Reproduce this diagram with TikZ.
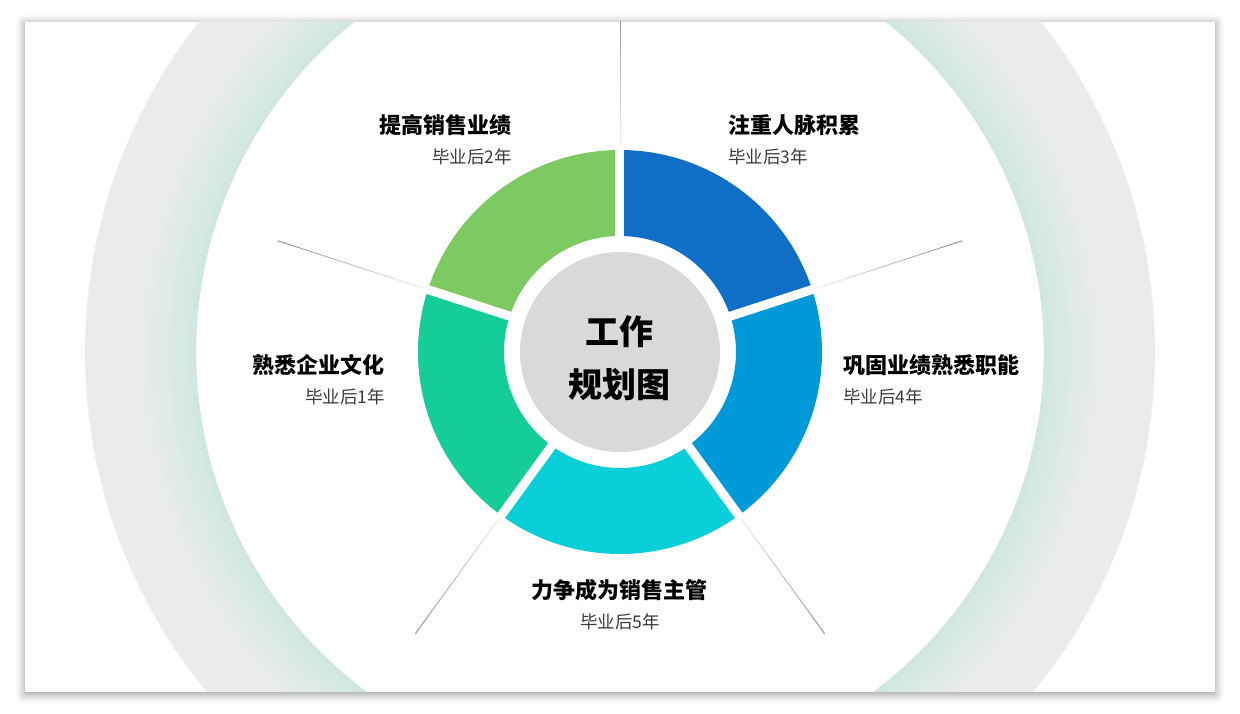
\documentclass[tikz,border=0pt]{standalone}
\usepackage{fontspec}
\newfontfamily\cjk{Noto Sans CJK SC}
\usetikzlibrary{shadows.blur}

\definecolor{segBlue}{HTML}{0F6FC6}
\definecolor{segSky}{HTML}{0099D8}
\definecolor{segCyan}{HTML}{0BCFD8}
\definecolor{segTeal}{HTML}{14CD98}
\definecolor{segLeaf}{HTML}{7ECA62}
\definecolor{hubgray}{HTML}{D9D9D9}
\definecolor{ringgray}{HTML}{EBEBEB}
\definecolor{ringtint}{HTML}{CFE8DF}
\definecolor{spoke}{HTML}{8C8C8C}
\definecolor{subtext}{HTML}{3A3A3A}

\tikzset{
  goal/.style={font=\cjk\bfseries\fontsize{22}{26}\selectfont, inner sep=0pt},
  year/.style={font=\cjk\fontsize{17.5}{21}\selectfont, text=subtext, inner sep=0pt},
}

\begin{document}
\begin{tikzpicture}[x=1pt, y=1pt]
    % page size
    \useasboundingbox (-620,-362) rectangle (620,352);

    % slide with its shadow
    \fill[white, blur shadow={shadow xshift=0pt, shadow yshift=-2pt, shadow blur radius=9pt, shadow opacity=45}]
        (-595,-340) rectangle (595,330);

    \begin{scope}
        \clip (-595,-340) rectangle (595,330);
        % big ring in the background
        \fill[ringgray, even odd rule] (0,0) circle (535pt) (0,0) circle (424pt);
        % tint towards its inner edge
        \foreach \i in {0,...,27} {
            \pgfmathtruncatemacro{\p}{100-3.6*\i}
            \pgfmathsetmacro{\rr}{425+2*\i}
            \draw[ringtint!\p!ringgray, line width=2.3pt] (0,0) circle (\rr pt);
        }

        % thin spokes, fading towards the centre
        \foreach \a/\r in {90/360, 18/360, -54/348, -126/348, 162/360} {
            \foreach \i in {0,...,19} {
                \pgfmathtruncatemacro{\p}{15+4.5*\i}
                \pgfmathsetmacro{\ra}{205+(\r-205)*\i/20}
                \pgfmathsetmacro{\rb}{205+(\r-205)*(\i+1)/20}
                \draw[spoke!\p, line width=0.9pt] (\a:\ra pt) -- (\a:\rb pt);
            }
        }
    \end{scope}

    % donut segments
    \foreach \s/\e/\c in {90/18/segBlue, 18/-54/segSky, -54/-126/segCyan, -126/-198/segTeal, -198/-270/segLeaf}
        \fill[\c] (\s:202pt) arc[start angle=\s, end angle=\e, radius=202pt]
            -- (\e:116pt) arc[start angle=\e, end angle=\s, radius=116pt] -- cycle;

    % white gaps between the segments
    \foreach \a in {90,18,-54,-126,162}
        \draw[white, line width=9pt] (\a:110pt) -- (\a:206pt);

    % centre
    \node[circle, fill=hubgray, minimum size=200pt, inner sep=0pt] (hub) at (0,0) {};
    \node[font=\cjk\bfseries\fontsize{34}{53}\selectfont, align=center, inner sep=0pt] (hubtext) at (0,-6) {工作\\规划图};

    % labels
    \node[goal, anchor=west] (goal3) at (108,227) {注重人脉积累};
    \node[year, anchor=west] (year3) at (108,195) {毕业后3年};

    \node[goal, anchor=east] (goal2) at (-108,227) {提高销售业绩};
    \node[year, anchor=east] (year2) at (-108,195) {毕业后2年};

    \node[goal, anchor=west] (goal4) at (223,-13) {巩固业绩熟悉职能};
    \node[year, anchor=west] (year4) at (223,-45) {毕业后4年};

    \node[goal, anchor=east] (goal1) at (-235,-13) {熟悉企业文化};
    \node[year, anchor=east] (year1) at (-235,-45) {毕业后1年};

    \node[goal] (goal5) at (0,-238) {力争成为销售主管};
    \node[year] (year5) at (0,-270) {毕业后5年};
\end{tikzpicture}
\end{document}
